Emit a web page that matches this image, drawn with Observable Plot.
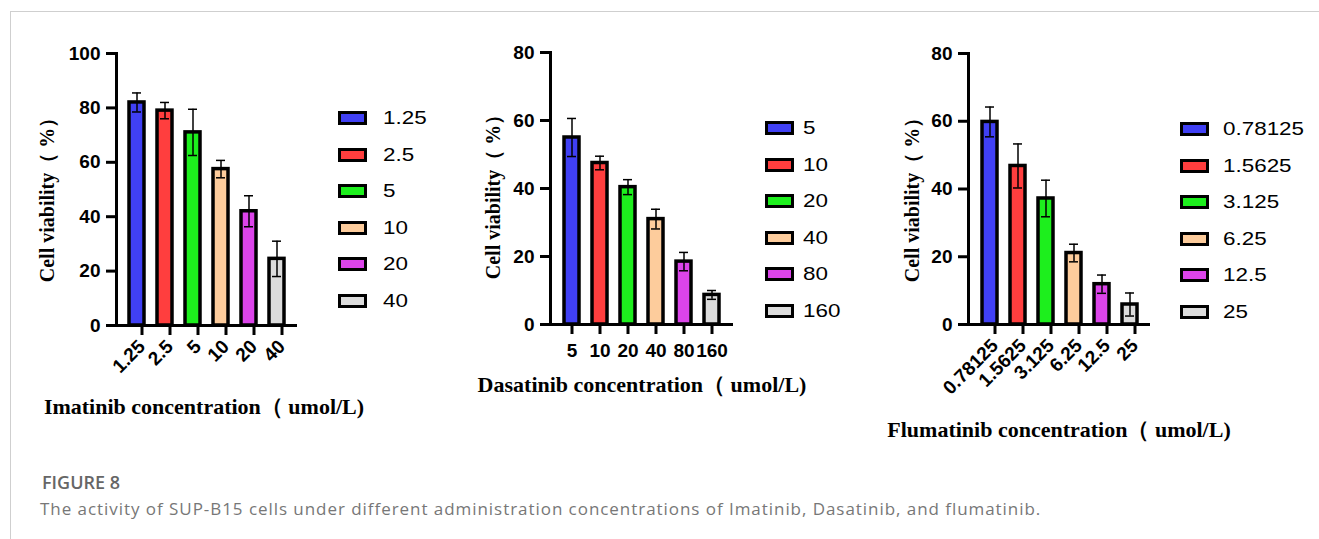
<!DOCTYPE html>
<html><head><meta charset="utf-8">
<script src="https://cdn.jsdelivr.net/npm/d3@7"></script>
<script src="https://cdn.jsdelivr.net/npm/@observablehq/plot@0.6"></script>
<style>
html,body{margin:0;padding:0;background:#fff}
body{width:1319px;height:539px;overflow:hidden;position:relative;font-family:"Liberation Sans",Arial,sans-serif}
.bt{position:absolute;left:10px;top:11px;right:0;height:1px;background:#cfcfcf}
.bl{position:absolute;left:10px;top:11px;bottom:0;width:1px;background:#cfcfcf}
.panel{position:absolute}
.title{position:absolute;white-space:nowrap;font-family:"Liberation Serif","Times New Roman",serif;font-weight:bold;color:#000;line-height:1}
.xtitle{font-size:22px}
.ytitle{font-size:20px}
.legend{position:absolute}
.lrow{position:absolute;left:0;display:flex;align-items:center;height:20px;white-space:nowrap}
.sw{box-sizing:border-box;width:29px;height:14px;border:3px solid #000}
.lt{font-family:"Liberation Sans",Arial,sans-serif;font-size:19px;color:#000;transform:scaleX(1.18);transform-origin:left center}
.cap1{position:absolute;left:42px;top:470px;font-family:"Open Sans",sans-serif;font-weight:600;font-size:18px;color:#666}
.cap2{position:absolute;left:40px;top:497px;font-family:"Open Sans",sans-serif;font-size:17px;letter-spacing:0.95px;color:#777}
</style>
</head><body>
<div class="bt"></div><div class="bl"></div>
<div id="root"></div>
<div class="cap1">FIGURE 8</div>
<div class="cap2">The activity of SUP-B15 cells under different administration concentrations of Imatinib, Dasatinib, and flumatinib.</div>
<script>
// ---- data ----
const imatinibConc = ["1.25", "2.5", "5", "10", "20", "40"];
const imatinibMean = [82, 79, 71, 57.5, 42, 24.5];
const imatinibErr  = [3.5, 3, 8.5, 3.2, 5.7, 6.5];

const dasatinibConc = ["5", "10", "20", "40", "80", "160"];
const dasatinibMean = [55, 47.5, 40.4, 31, 18.5, 8.7];
const dasatinibErr  = [5.6, 2, 2.2, 2.9, 2.7, 1.3];

const flumatinibConc = ["0.78125", "1.5625", "3.125", "6.25", "12.5", "25"];
const flumatinibMean = [59.8, 46.8, 37.2, 21.1, 11.9, 5.9];
const flumatinibErr  = [4.4, 6.5, 5.4, 2.6, 2.7, 3.4];

const barColors = ["#4040f4", "#ff3e3e", "#1def1d", "#fdcc9c", "#dc44ea", "#dcdcdc"];
const yTicksImatinib = [0, 20, 40, 60, 80, 100];
const yTicksOther = [0, 20, 40, 60, 80];

const yTitle = "Cell viability（ %）";
const xTitles = ["Imatinib concentration（ umol/L)", "Dasatinib concentration（ umol/L)", "Flumatinib concentration（ umol/L)"];

// ---- layout ----
const panels = [
  {conc: imatinibConc, mean: imatinibMean, err: imatinibErr, ymax: 100, yticks: yTicksImatinib, rot: -45,
   left: 56, top: 33, fw: 181, fh: 272, po: 0.40,
   legend: {x: 338, y: 118, lx: 383}, yt: {x: 47, y: 195}, xt: {x: 204, y: 407}},
  {conc: dasatinibConc, mean: dasatinibMean, err: dasatinibErr, ymax: 80, yticks: yTicksOther, rot: 0,
   left: 490, top: 32, fw: 183, fh: 272, po: 0.48,
   legend: {x: 765, y: 128, lx: 803}, yt: {x: 493, y: 192}, xt: {x: 642, y: 385}},
  {conc: flumatinibConc, mean: flumatinibMean, err: flumatinibErr, ymax: 80, yticks: yTicksOther, rot: -45,
   left: 908, top: 33, fw: 182, fh: 271, po: 0.43,
   legend: {x: 1180, y: 129, lx: 1223}, yt: {x: 912, y: 195}, xt: {x: 1059, y: 430}}
];

const root = document.getElementById("root");
panels.forEach((p, k) => {
  const data = p.conc.map((c, i) => ({c, v: p.mean[i], e: p.err[i]}));
  const mL = 60, mR = 10, mT = 20, mB = 90;
  const chart = Plot.plot({
    width: mL + p.fw + mR, height: mT + p.fh + mB,
    marginLeft: mL, marginRight: mR, marginTop: mT, marginBottom: mB,
    style: {fontFamily: "'Liberation Sans', Arial, sans-serif", fontWeight: "bold", fontSize: "19px", color: "#000", background: "transparent", overflow: "visible"},
    x: {domain: p.conc, paddingInner: 0.48, paddingOuter: p.po, label: null},
    y: {domain: [0, p.ymax], label: null},
    color: {domain: p.conc, range: barColors},
    marks: [
      Plot.barY(data, {x: "c", y: "v", fill: "c", stroke: "#000", strokeWidth: 3.5}),
      Plot.ruleX(data, {x: "c", y1: d => d.v - d.e, y2: d => d.v + d.e, stroke: "#000", strokeWidth: 1.5}),
      Plot.tickY(data, {x: "c", y: d => d.v + d.e, stroke: "#000", strokeWidth: 1.5, insetLeft: 3, insetRight: 3}),
      Plot.tickY(data, {x: "c", y: d => d.v - d.e, stroke: "#000", strokeWidth: 1.5, insetLeft: 3, insetRight: 3}),
      Plot.axisY({ticks: p.yticks, tickSize: 10, tickPadding: 6, strokeWidth: 3, fontSize: 19, label: null}),
      Plot.axisX({tickSize: 10, tickPadding: p.rot ? 8 : 9, dx: p.rot ? 5 : 0, strokeWidth: 3, fontSize: 19, tickRotate: p.rot, label: null}),
      Plot.ruleY([0], {stroke: "#000", strokeWidth: 3}),
      Plot.frame({anchor: "left", stroke: "#000", strokeWidth: 3})
    ]
  });
  const wrap = document.createElement("div");
  wrap.className = "panel";
  wrap.style.left = p.left + "px";
  wrap.style.top = p.top + "px";
  wrap.appendChild(chart);
  root.appendChild(wrap);

  // legend
  const lg = document.createElement("div");
  lg.className = "legend";
  p.conc.forEach((c, i) => {
    const row = document.createElement("div");
    row.className = "lrow";
    row.style.left = p.legend.x + "px";
    row.style.top = (p.legend.y + i * 36.5 - 10) + "px";
    const sw = document.createElement("div");
    sw.className = "sw";
    sw.style.background = barColors[i];
    const lt = document.createElement("div");
    lt.className = "lt";
    lt.style.marginLeft = (p.legend.lx - p.legend.x - 29) + "px";
    lt.textContent = c;
    row.appendChild(sw); row.appendChild(lt);
    lg.appendChild(row);
  });
  root.appendChild(lg);

  // axis titles
  const yt = document.createElement("div");
  yt.className = "title ytitle";
  yt.textContent = yTitle;
  yt.style.left = p.yt.x + "px";
  yt.style.top = p.yt.y + "px";
  yt.style.transform = "translate(-50%,-50%) rotate(-90deg)";
  root.appendChild(yt);
  const xt = document.createElement("div");
  xt.className = "title xtitle";
  xt.textContent = xTitles[k];
  xt.style.left = p.xt.x + "px";
  xt.style.top = p.xt.y + "px";
  xt.style.transform = "translate(-50%,-50%)";
  root.appendChild(xt);
});
</script>
</body></html>
